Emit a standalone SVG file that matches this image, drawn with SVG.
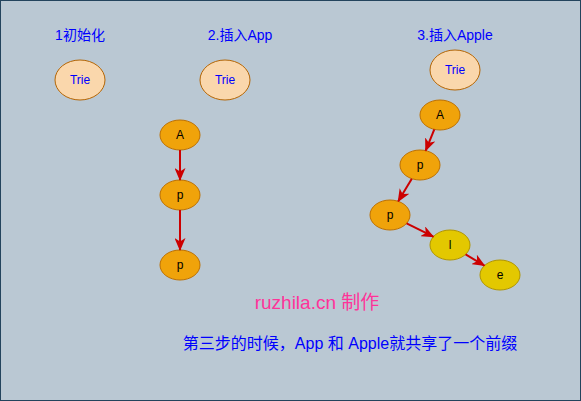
<svg xmlns="http://www.w3.org/2000/svg" width="581" height="401" viewBox="0 0 581 401">
<style>
text{font-family:"Liberation Sans","Noto Sans CJK SC",sans-serif;text-anchor:middle;dominant-baseline:central}
.title{font-size:14px;fill:#0000FF}
.trie ellipse{fill:#FAD7AC;stroke:#B46504}
.trie text{font-size:12px;fill:#0000FF}
.o ellipse{fill:#F0A30A;stroke:#BD7000}
.y ellipse{fill:#E3C800;stroke:#B09500}
.o text,.y text{font-size:12px;fill:#000000}
.edge{stroke:#CC0000;stroke-width:2;fill:none;marker-end:url(#arr)}
</style>
<defs>
<marker id="arr" markerUnits="userSpaceOnUse" markerWidth="13" markerHeight="11" refX="12" refY="5.5" orient="auto" viewBox="0 0 13 11">
<path d="M0,0 L13,5.5 L0,11 L3.5,5.5 Z" fill="#CC0000"/>
</marker>
</defs>
<rect x="0.5" y="0.5" width="580" height="400" fill="#BAC8D3" stroke="#23445D"/>
<text class="title" x="80" y="35">1初始化</text>
<text class="title" x="240" y="35">2.插入App</text>
<text class="title" x="455" y="35">3.插入Apple</text>
<g id="trie1" class="trie"><ellipse cx="80" cy="80" rx="25" ry="20"/><text x="80" y="80">Trie</text></g>
<g id="trie2" class="trie"><ellipse cx="225" cy="80" rx="25" ry="20"/><text x="225" y="80">Trie</text></g>
<g id="trie3" class="trie"><ellipse cx="455" cy="70" rx="25" ry="20"/><text x="455" y="70">Trie</text></g>
<g id="a2" class="o"><ellipse cx="180" cy="135" rx="20" ry="15"/><text x="180" y="135">A</text></g>
<g id="p2a" class="o"><ellipse cx="180" cy="195" rx="20" ry="15"/><text x="180" y="195">p</text></g>
<g id="p2b" class="o"><ellipse cx="180" cy="265" rx="20" ry="15"/><text x="180" y="265">p</text></g>
<g id="a3" class="o"><ellipse cx="440" cy="115" rx="20" ry="15"/><text x="440" y="115">A</text></g>
<g id="p3a" class="o"><ellipse cx="420" cy="165" rx="20" ry="15"/><text x="420" y="165">p</text></g>
<g id="p3b" class="o"><ellipse cx="390" cy="215" rx="20" ry="15"/><text x="390" y="215">p</text></g>
<g id="l3" class="y"><ellipse cx="450" cy="245" rx="20" ry="15"/><text x="450" y="245">l</text></g>
<g id="e3" class="y"><ellipse cx="500" cy="275" rx="20" ry="15"/><text x="500" y="275">e</text></g>
<g id="connectors">
<line class="edge" x1="180" y1="150" x2="180" y2="180"/>
<line class="edge" x1="180" y1="210" x2="180" y2="250"/>
<line class="edge" x1="434.3" y1="129.4" x2="425.7" y2="150.6"/>
<line class="edge" x1="411.8" y1="178.7" x2="398.2" y2="201.3"/>
<line class="edge" x1="406.6" y1="223.3" x2="433.4" y2="236.7"/>
<line class="edge" x1="465.6" y1="254.4" x2="484.4" y2="265.6"/>
</g>
<text x="317" y="302" style="font-size:19px;fill:#FF3399">ruzhila.cn 制作</text>
<text x="350" y="343" style="font-size:16px;fill:#0000FF">第三步的时候，App 和 Apple就共享了一个前缀</text>
</svg>
